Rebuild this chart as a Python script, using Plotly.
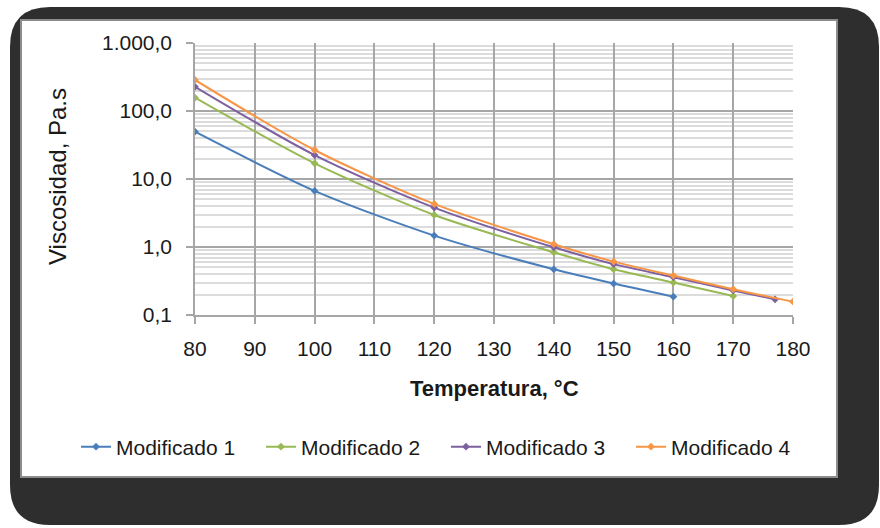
import plotly.graph_objects as go

# Viscosity vs temperature for four modified binders
temp_1 = [80, 100, 120, 140, 150, 160]
visc_1 = [49.6, 6.7, 1.47, 0.47, 0.29, 0.186]

temp_2 = [80, 100, 120, 140, 150, 160, 170]
visc_2 = [157, 17.0, 2.96, 0.835, 0.47, 0.30, 0.19]

temp_3 = [80, 100, 120, 140, 150, 160, 170, 177]
visc_3 = [227, 22.5, 3.8, 0.99, 0.56, 0.36, 0.23, 0.17]

temp_4 = [80, 100, 120, 140, 150, 160, 170, 180]
visc_4 = [286, 26.7, 4.3, 1.10, 0.61, 0.38, 0.24, 0.157]

series_names = ["Modificado 1", "Modificado 2", "Modificado 3", "Modificado 4"]
series_colors = ["#4A7EBB", "#98B954", "#7D60A0", "#F79646"]

x_ticks = [80, 90, 100, 110, 120, 130, 140, 150, 160, 170, 180]
y_tickvals = [0.1, 1, 10, 100, 1000]
y_ticktext = ["0,1", "1,0", "10,0", "100,0", "1.000,0"]

FONT = "Liberation Sans, Arial, sans-serif"
W, H = 880, 528
L, R, T, B = 195, 87, 43, 213
PW, PH = W - L - R, H - T - B


def px(x, y):
    """Pixel position -> paper coordinates."""
    return (x - L) / PW, (H - B - y) / PH


def rounded_path(x0, y0, x1, y1, r):
    pts = []

    def p(x, y):
        a, b = px(x, y)
        return f"{a:.5f},{b:.5f}"

    pts.append(f"M {p(x0 + r, y0)}")
    pts.append(f"L {p(x1 - r, y0)}")
    pts.append(f"Q {p(x1, y0)} {p(x1, y0 + r)}")
    pts.append(f"L {p(x1, y1 - r)}")
    pts.append(f"Q {p(x1, y1)} {p(x1 - r, y1)}")
    pts.append(f"L {p(x0 + r, y1)}")
    pts.append(f"Q {p(x0, y1)} {p(x0, y1 - r)}")
    pts.append(f"L {p(x0, y0 + r)}")
    pts.append(f"Q {p(x0, y0)} {p(x0 + r, y0)}")
    pts.append("Z")
    return " ".join(pts)


fig = go.Figure()
for xs, ys, name, color in zip(
    [temp_1, temp_2, temp_3, temp_4],
    [visc_1, visc_2, visc_3, visc_4],
    series_names,
    series_colors,
):
    fig.add_trace(
        go.Scatter(
            x=xs,
            y=ys,
            name=name,
            mode="lines+markers",
            line=dict(color=color, width=2, shape="spline", smoothing=0.8),
            marker=dict(color=color, size=6, symbol="diamond"),
        )
    )

# dark frame with rounded corners behind the white chart panel
ax0, ay0 = px(21, 20)
ax1, ay1 = px(837, 477)
shapes = [
    dict(type="path", xref="paper", yref="paper", path=rounded_path(10, 7, 879, 525, 40),
         fillcolor="#2E2E2E", line=dict(width=0), layer="below"),
    dict(type="rect", xref="paper", yref="paper", x0=ax0, y0=ay1, x1=ax1, y1=ay0,
         fillcolor="white", line=dict(color="#8C8C8C", width=2), layer="below"),
]

tx, ty = px(57, 177)
xx, xy = px(494, 388)
annotations = [
    dict(text="Viscosidad, Pa.s", xref="paper", yref="paper", x=tx, y=ty, textangle=-90,
         showarrow=False, font=dict(family=FONT, size=24, color="#1a1a1a"),
         xanchor="center", yanchor="middle"),
    dict(text="<b>Temperatura, °C</b>", xref="paper", yref="paper", x=xx, y=xy,
         showarrow=False, font=dict(family=FONT, size=22, color="#1a1a1a"),
         xanchor="center", yanchor="middle"),
]

lx, ly = px(76, 447)
fig.update_layout(
    width=W,
    height=H,
    margin=dict(l=L, r=R, t=T, b=B),
    paper_bgcolor="white",
    plot_bgcolor="rgba(0,0,0,0)",
    font=dict(family=FONT, size=21, color="#1a1a1a"),
    shapes=shapes,
    annotations=annotations,
    showlegend=True,
    legend=dict(orientation="h", x=lx, y=ly, xanchor="left", yanchor="middle",
                font=dict(family=FONT, size=21, color="#1a1a1a"),
                bgcolor="rgba(0,0,0,0)", itemwidth=30, entrywidth=140,
                tracegroupgap=0),
    xaxis=dict(
        range=[80, 180], tickvals=x_ticks, showgrid=True, gridcolor="#A6A6A6", gridwidth=1.5,
        showline=True, linecolor="#A6A6A6", linewidth=1.5, ticks="outside", ticklen=7,
        tickcolor="#A6A6A6", tickwidth=1.5, zeroline=False, ticklabelstandoff=7,
        tickfont=dict(family=FONT, size=21, color="#1a1a1a"),
    ),
    yaxis=dict(
        type="log", range=[-1, 3], tickvals=y_tickvals, ticktext=y_ticktext,
        showgrid=True, gridcolor="#A6A6A6", gridwidth=1.5,
        showline=True, linecolor="#A6A6A6", linewidth=1.5, ticks="outside", ticklen=7,
        tickcolor="#A6A6A6", tickwidth=1.5, zeroline=False, ticklabelstandoff=10,
        tickfont=dict(family=FONT, size=21, color="#1a1a1a"),
        minor=dict(dtick="D1", showgrid=True, gridcolor="#DCDCDC", gridwidth=1.5, ticks=""),
    ),
)

fig.write_html("out.html")
